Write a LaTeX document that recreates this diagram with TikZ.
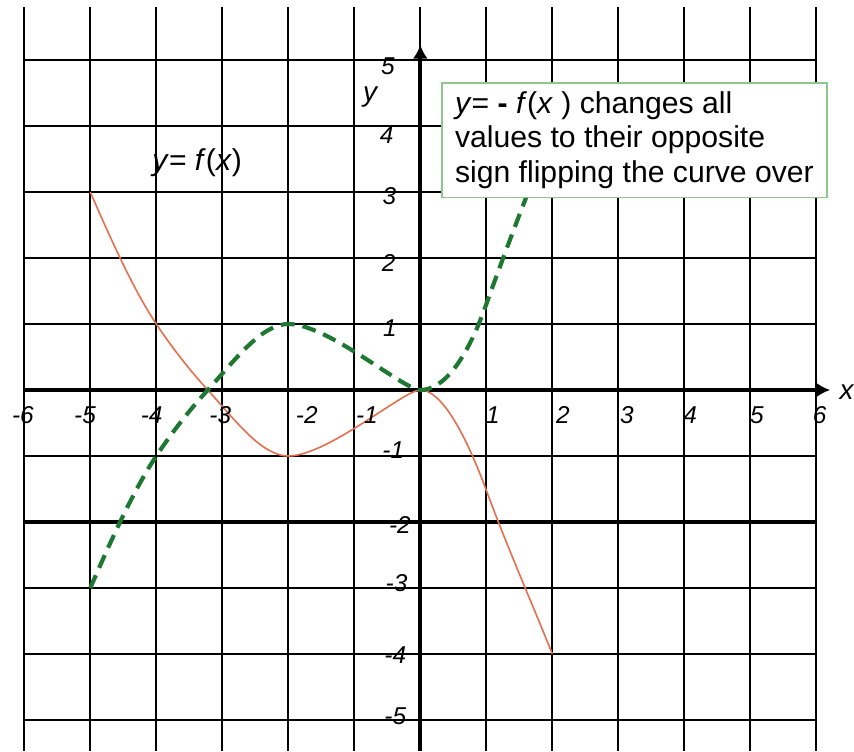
\documentclass[tikz,border=0pt]{standalone}
\usepackage{fontspec}
\setmainfont{Liberation Sans}
\usetikzlibrary{arrows.meta}
\definecolor{curvered}{RGB}{228,112,80}
\definecolor{curvegreen}{RGB}{30,120,50}
\definecolor{boxgreen}{RGB}{140,200,140}

\begin{document}
\begin{tikzpicture}[
    every node/.style={font=\fontsize{10.5}{12}\selectfont\itshape},
    axislabel/.style={font=\fontsize{12}{14}\selectfont\itshape},
    gridline/.style={line width=0.8pt},
    axis/.style={line width=1.7pt, -{Latex[length=6pt,width=6.5pt]}},
    fcurve/.style={curvered, line width=0.7pt},
    gcurve/.style={curvegreen, line width=1.8pt, dash pattern=on 6pt off 3.5pt},
    note/.style={draw=boxgreen, line width=0.8pt, fill=white, align=left,
        font=\fontsize{13}{15}\selectfont, minimum width=5.84cm, minimum height=1.74cm}
]
\useasboundingbox (-6.368,-5.470) rectangle (6.571,5.909);

% Grid
\draw[gridline] (-6,-5.47) grid (6,5.8);
\draw[line width=1.4pt] (-6,-2) -- (6,-2);

% Axes
\draw[axis] (0,-5.47) -- (0,5.23);
\draw[axis] (-6,0) -- (6.21,0);

% y = f(x)
\draw[fcurve] (-5,3) .. controls (-4.667,2.233) and (-4.333,1.5) .. (-4,1)
    .. controls (-3.74,0.61) and (-3.48,0.286) .. (-3.22,0)
    .. controls (-2.813,-0.447) and (-2.407,-1) .. (-2,-1)
    .. controls (-1.4,-1) and (-0.25,0) .. (0,0)
    .. controls (0.3,0) and (0.65,-0.575) .. (1,-1.52)
    .. controls (1.333,-2.42) and (1.667,-3.167) .. (2,-4);
% y = -f(x)
\draw[gcurve] (-5,-3) .. controls (-4.667,-2.233) and (-4.333,-1.5) .. (-4,-1)
    .. controls (-3.74,-0.61) and (-3.48,-0.286) .. (-3.22,0)
    .. controls (-2.813,0.447) and (-2.407,1) .. (-2,1)
    .. controls (-1.4,1) and (-0.25,0) .. (0,0)
    .. controls (0.35,0) and (0.7,0.45) .. (1,1.3)
    .. controls (1.25,2) and (1.7,3.2) .. (2,3.9);

% Note
\node[note, anchor=north west] (note) at (0.31,4.67)
    {\textit{y}= \textbf{-} \textit{f}(\textit{x} ) changes all\\
     values to their opposite\\
     sign flipping the curve over};
\node[font=\fontsize{13}{15}\selectfont] (flabel) at (-3.38,3.44)
    {\textit{y}= \textit{f}(\textit{x})};

% Axis names
\node[axislabel] (ylabel) at (-0.76,4.44) {y};
\node[axislabel] (xlabel) at (6.46,-0.03) {x};

% x ticks
\node (xm6) at (-6.02,-0.38) {-6};
\node (xm5) at (-5.08,-0.38) {-5};
\node (xm4) at (-4.07,-0.38) {-4};
\node (xm3) at (-3.03,-0.38) {-3};
\node (xm2) at (-1.72,-0.38) {-2};
\node (xm1) at (-0.81,-0.38) {-1};
\node (xp1) at (1.10,-0.38) {1};
\node (xp2) at (2.16,-0.38) {2};
\node (xp3) at (3.13,-0.38) {3};
\node (xp4) at (4.09,-0.38) {4};
\node (xp5) at (5.10,-0.38) {5};
\node (xp6) at (6.05,-0.38) {6};

% y ticks
\node (yp5) at (-0.49,4.90) {5};
\node (yp4) at (-0.51,3.86) {4};
\node (yp3) at (-0.47,2.93) {3};
\node (yp2) at (-0.48,1.92) {2};
\node (yp1) at (-0.46,0.94) {1};
\node (ym1) at (-0.41,-0.91) {-1};
\node (ym2) at (-0.31,-2.05) {-2};
\node (ym3) at (-0.36,-2.93) {-3};
\node (ym4) at (-0.38,-4.02) {-4};
\node (ym5) at (-0.38,-4.94) {-5};
\end{tikzpicture}
\end{document}
